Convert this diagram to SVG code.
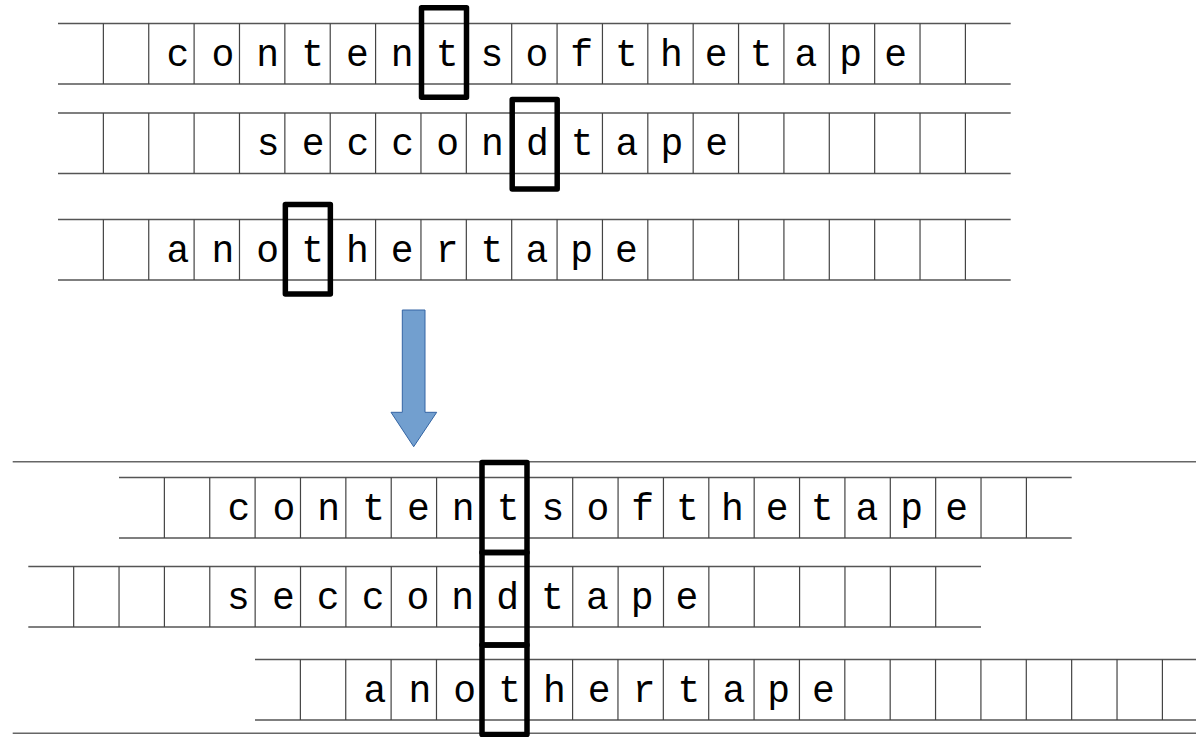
<svg xmlns="http://www.w3.org/2000/svg" xmlns:xlink="http://www.w3.org/1999/xlink" width="1196" height="737" viewBox="0 0 1196 737">
<style>
.rule{stroke:#555;stroke-width:1.3;fill:none}
.div{stroke:#444;stroke-width:1.2;fill:none}
.long{stroke:#666;stroke-width:1.6;fill:none}
.cell{font-family:"Liberation Mono","DejaVu Sans Mono",monospace;font-size:38px;fill:#000;text-anchor:middle}
.head{fill:none;stroke:#000;stroke-width:5.5;stroke-linejoin:round}
.arrow{fill:#729fcf;stroke:#3465a4;stroke-width:1}
</style>
<defs>
<g id="grid">
<line class="rule" x1="0" y1="0" x2="952.7" y2="0"/>
<line class="rule" x1="0" y1="60.5" x2="952.7" y2="60.5"/>
<path class="div" d="M45.37 0V60.5M90.74 0V60.5M136.11 0V60.5M181.48 0V60.5M226.85 0V60.5M272.22 0V60.5M317.59 0V60.5M362.96 0V60.5M408.33 0V60.5M453.7 0V60.5M499.07 0V60.5M544.44 0V60.5M589.81 0V60.5M635.18 0V60.5M680.55 0V60.5M725.92 0V60.5M771.29 0V60.5M816.66 0V60.5M862.03 0V60.5M907.4 0V60.5"/>
</g>
</defs>

<g id="tape-top-1" transform="translate(58,23.5)">
<use href="#grid" xlink:href="#grid"/>
<text class="cell" y="42" x="120 164.85 209.7 254.55 299.4 344.25 389.1 433.95 478.8 523.65 568.5 613.35 658.2 703.05 747.9 792.75 837.6">contentsofthetape</text>
</g>
<g id="tape-top-2" transform="translate(58,113)">
<use href="#grid" xlink:href="#grid"/>
<text class="cell" y="42" x="210.2 255.05 299.9 344.75 389.6 434.45 479.3 524.15 569 613.85 658.7">seccondtape</text>
</g>
<g id="tape-top-3" transform="translate(58,219.5)">
<use href="#grid" xlink:href="#grid"/>
<text class="cell" y="42" x="120 164.85 209.7 254.55 299.4 344.25 389.1 433.95 478.8 523.65 568.5">anothertape</text>
</g>

<g id="head-top-1"><rect class="head" x="421.5" y="7.75" width="45" height="89.5"/></g>
<g id="head-top-2"><rect class="head" x="512.2" y="99.5" width="45" height="89.5"/></g>
<g id="head-top-3"><rect class="head" x="285.35" y="204.5" width="45" height="89.5"/></g>

<g id="connectors">
<polygon class="arrow" points="402.3,310 425,310 425,412.3 436.7,412.3 413.7,446.7 391,412.3 402.3,412.3"/>
</g>

<g id="frame-lines">
<line class="long" x1="12.7" y1="461.7" x2="1196" y2="461.7"/>
<line class="long" x1="12.7" y1="733.3" x2="1196" y2="733.3"/>
</g>

<g id="tape-bottom-1" transform="translate(119,477.5)">
<use href="#grid" xlink:href="#grid"/>
<text class="cell" y="42" x="120 164.85 209.7 254.55 299.4 344.25 389.1 433.95 478.8 523.65 568.5 613.35 658.2 703.05 747.9 792.75 837.6">contentsofthetape</text>
</g>
<g id="tape-bottom-2" transform="translate(28.3,566.5)">
<use href="#grid" xlink:href="#grid"/>
<text class="cell" y="42" x="210.2 255.05 299.9 344.75 389.6 434.45 479.3 524.15 569 613.85 658.7">seccondtape</text>
</g>
<g id="tape-bottom-3" transform="translate(255,659.5)">
<use href="#grid" xlink:href="#grid"/>
<text class="cell" y="42" x="120 164.85 209.7 254.55 299.4 344.25 389.1 433.95 478.8 523.65 568.5">anothertape</text>
</g>

<g id="head-bottom-1"><rect class="head" x="482" y="462.5" width="45" height="90"/></g>
<g id="head-bottom-2"><rect class="head" x="482" y="552.5" width="45" height="92.5"/></g>
<g id="head-bottom-3"><rect class="head" x="482" y="645" width="45" height="89.5"/></g>
</svg>
